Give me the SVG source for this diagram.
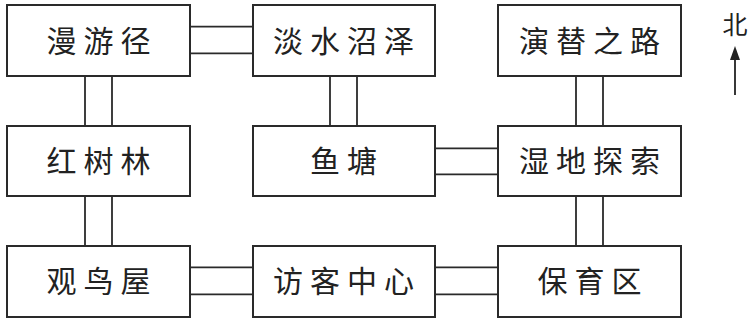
<svg xmlns="http://www.w3.org/2000/svg" width="754" height="323" viewBox="0 0 754 323">
<style>
.box{fill:#fff;stroke:#2a2a2a;stroke-width:2}
.c line{stroke:#2a2a2a;stroke-width:1.8}
.t{font-family:"Noto Sans CJK SC","Noto Sans CJK JP",sans-serif;font-size:30px;letter-spacing:7px;fill:#222;text-anchor:middle}
.nt{font-family:"Noto Sans CJK SC","Noto Sans CJK JP",sans-serif;font-size:25px;fill:#222;text-anchor:middle}
</style>
<g class="c" id="connectors">
<line x1="190" y1="26.7" x2="253" y2="26.7"/><line x1="190" y1="53.3" x2="253" y2="53.3"/>
<line x1="435" y1="148.3" x2="498" y2="148.3"/><line x1="435" y1="174.3" x2="498" y2="174.3"/>
<line x1="190" y1="267.3" x2="253" y2="267.3"/><line x1="190" y1="294.3" x2="253" y2="294.3"/>
<line x1="435" y1="267.3" x2="498" y2="267.3"/><line x1="435" y1="294.3" x2="498" y2="294.3"/>
<line x1="85" y1="76" x2="85" y2="126"/><line x1="112" y1="76" x2="112" y2="126"/>
<line x1="85" y1="196" x2="85" y2="246"/><line x1="112" y1="196" x2="112" y2="246"/>
<line x1="330" y1="76" x2="330" y2="126"/><line x1="357" y1="76" x2="357" y2="126"/>
<line x1="576" y1="76" x2="576" y2="126"/><line x1="603" y1="76" x2="603" y2="126"/>
<line x1="576" y1="196" x2="576" y2="246"/><line x1="603" y1="196" x2="603" y2="246"/>
</g>
<g id="n1"><rect class="box" x="7" y="5" width="183" height="71"/><text class="t" x="102" y="52">漫游径</text></g>
<g id="n2"><rect class="box" x="253" y="5" width="182" height="71"/><text class="t" x="347" y="52">淡水沼泽</text></g>
<g id="n3"><rect class="box" x="498" y="5" width="183" height="71"/><text class="t" x="593" y="52">演替之路</text></g>
<g id="n4"><rect class="box" x="7" y="126" width="183" height="70"/><text class="t" x="102" y="172">红树林</text></g>
<g id="n5"><rect class="box" x="253" y="126" width="182" height="70"/><text class="t" x="347" y="172">鱼塘</text></g>
<g id="n6"><rect class="box" x="498" y="126" width="183" height="70"/><text class="t" x="593" y="172">湿地探索</text></g>
<g id="n7"><rect class="box" x="7" y="246" width="183" height="71"/><text class="t" x="102" y="292">观鸟屋</text></g>
<g id="n8"><rect class="box" x="253" y="246" width="182" height="71"/><text class="t" x="347" y="292">访客中心</text></g>
<g id="n9"><rect class="box" x="498" y="246" width="183" height="71"/><text class="t" x="593" y="292">保育区</text></g>
<g id="north">
<text class="nt" x="735" y="34">北</text>
<line x1="735" y1="95" x2="735" y2="56" stroke="#222" stroke-width="1.8"/>
<polygon points="735,46 730,60 740,60" fill="#222"/>
</g>
</svg>
